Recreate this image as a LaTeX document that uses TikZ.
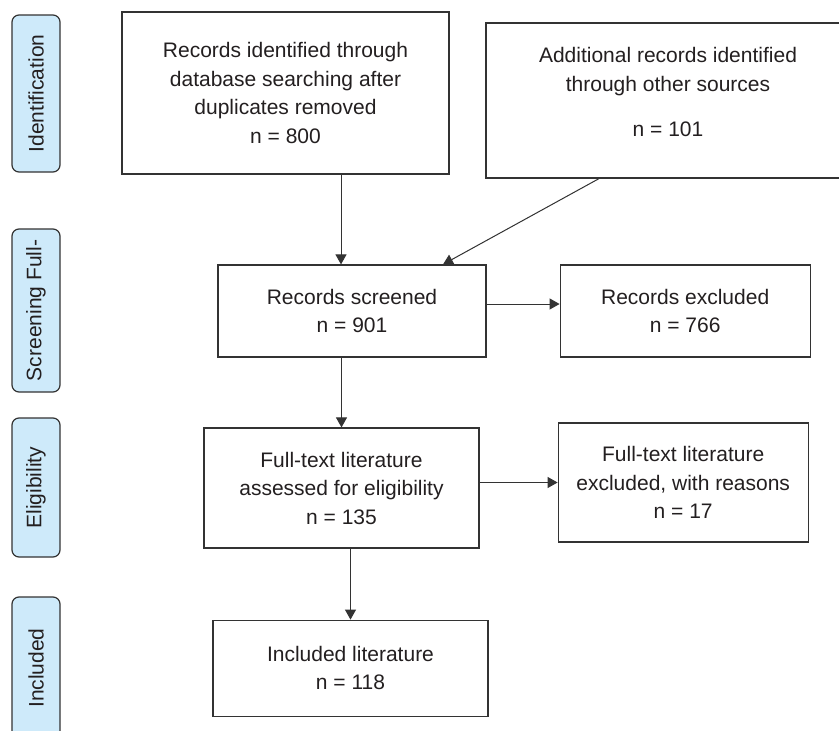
\documentclass[tikz,border=0pt]{standalone}
\usepackage{fontspec}
\setmainfont{Liberation Sans}
\usetikzlibrary{positioning,arrows.meta}

\definecolor{linegray}{RGB}{51,51,51}
\definecolor{textgray}{RGB}{35,31,32}
\definecolor{stageblue}{RGB}{206,234,250}

\begin{document}
\begin{tikzpicture}[
  x=1pt, y=-1pt,
  font=\fontsize{21pt}{28.5pt}\selectfont,
  box/.style={draw=linegray, line width=1.2pt, fill=white, text=textgray, align=center, inner sep=2pt},
  stage/.style={draw=linegray, line width=1.2pt, fill=stageblue, text=textgray, rounded corners=7pt, rotate=90, minimum height=48pt},
  arrow/.style={draw=linegray, line width=1pt, -{Triangle[width=11pt,length=10pt]}}
]
\useasboundingbox (0,0) rectangle (839,731);

% Stage labels
\node[stage, minimum width=157pt] (identlab) at (36,93.5) {Identification};
\node[stage, minimum width=163pt] (screenlab) at (36,310.5) {Screening Full-};
\node[stage, minimum width=139pt] (eliglab) at (36,487.5) {Eligibility};
\node[stage, minimum width=142pt] (incllab) at (36,668) {Included};

% Identification
\node[box, minimum width=327pt, minimum height=162pt] (records) at (285.5,93) {Records identified through\\database searching after\\duplicates removed\\n = 800};
\node[box, minimum width=364pt, minimum height=155pt] (additional) at (668,100.5) {Additional records identified\\through other sources\\[17pt]n = 101\\[-12pt]\mbox{}};

% Screening
\node[box, minimum width=268pt, minimum height=92pt] (screened) at (352,311) {Records screened\\n = 901};
\node[box, right=73pt of screened, minimum width=250pt, minimum height=92pt] (excluded) {Records excluded\\n = 766};

% Eligibility
\node[box, minimum width=275pt, minimum height=120pt] (assessed) at (341.5,488) {Full-text literature\\assessed for eligibility\\n = 135};
\node[box, right=78pt of assessed, yshift=5.5pt, minimum width=250pt, minimum height=119pt] (textexcl) {Full-text literature\\excluded, with reasons\\n = 17};

% Included
\node[box, below=71pt of assessed, xshift=9pt, minimum width=275pt, minimum height=96pt] (included) {Included literature\\n = 118};

% Connectors
\draw[arrow] ([xshift=-11pt]screened.north |- records.south) -- ([xshift=-11pt]screened.north);
\draw[arrow] ([xshift=-69pt]additional.south) -- ([xshift=91pt]screened.north);
\draw[arrow] ([yshift=7pt]screened.east) -- ([yshift=7pt]screened.east -| excluded.west);
\draw[arrow] (screened.south -| assessed.north) -- (assessed.north);
\draw[arrow] (assessed.east |- textexcl.west) -- (textexcl.west);
\draw[arrow] (assessed.south -| included.north) -- (included.north);

\end{tikzpicture}
\end{document}
